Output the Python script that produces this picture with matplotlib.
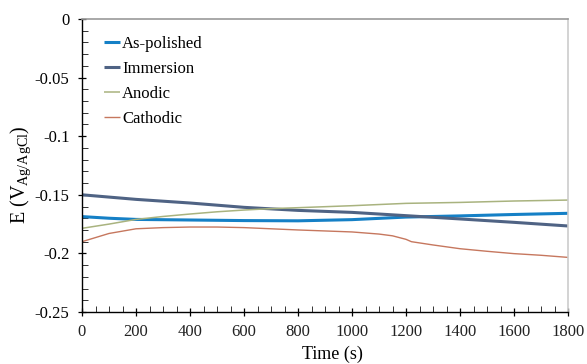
import matplotlib
matplotlib.use("Agg")
import matplotlib.pyplot as plt
from matplotlib.ticker import MultipleLocator, FixedLocator, FuncFormatter

plt.rcParams['font.family'] = ['Liberation Serif', 'DejaVu Serif']
plt.rcParams['mathtext.fontset'] = 'custom'
plt.rcParams['mathtext.rm'] = 'Liberation Serif'
plt.rcParams['mathtext.it'] = 'Liberation Serif:italic'

# Open-circuit potential vs time for the four surface conditions
t_polished = [0, 100, 200, 400, 600, 800, 1000, 1200, 1400, 1600, 1800]
e_polished = [-0.1686, -0.1700, -0.1710, -0.1715, -0.1720, -0.1722, -0.1712, -0.1690, -0.1680, -0.1668, -0.1658]

t_immersion = [0, 200, 400, 600, 800, 1000, 1200, 1400, 1600, 1800]
e_immersion = [-0.1500, -0.1539, -0.1570, -0.1607, -0.1633, -0.1650, -0.1678, -0.1706, -0.1735, -0.1766]

t_anodic = [0, 100, 200, 300, 400, 500, 600, 700, 800, 1000, 1200, 1400, 1600, 1800]
e_anodic = [-0.1786, -0.1750, -0.1710, -0.1685, -0.1664, -0.1645, -0.1630, -0.1618, -0.1610, -0.1593, -0.1573, -0.1565, -0.1553, -0.1545]

t_cathodic = [0, 100, 200, 300, 400, 500, 600, 700, 800, 1000, 1100, 1150, 1200, 1220, 1300, 1400, 1500, 1600, 1700, 1800]
e_cathodic = [-0.1900, -0.1830, -0.1790, -0.1780, -0.1775, -0.1775, -0.1780, -0.1790, -0.1800, -0.1817, -0.1835, -0.1850,
              -0.1880, -0.1900, -0.1928, -0.1960, -0.1982, -0.2002, -0.2016, -0.2034]

series = [
    ("As-polished", t_polished, e_polished, "#1580C6", 2.2),
    ("Immersion", t_immersion, e_immersion, "#4F6384", 2.2),
    ("Anodic", t_anodic, e_anodic, "#A9B37F", 1.1),
    ("Cathodic", t_cathodic, e_cathodic, "#C6775E", 1.0),
]

y_ticks = [0, -0.05, -0.1, -0.15, -0.2, -0.25]
y_tick_labels = ["0", "-0.05", "-0.1", "-0.15", "-0.2", "-0.25"]
x_ticks = [0, 200, 400, 600, 800, 1000, 1200, 1400, 1600, 1800]

fig = plt.figure(figsize=(5.87, 3.64), dpi=100)
ax = fig.add_axes([82 / 587, 1 - 312 / 364, 486 / 587, 293 / 364])

for label, t, e, color, lw in series:
    ax.plot(t, e, color=color, lw=lw, label=label, solid_capstyle='butt')

ax.set_xlim(0, 1800)
ax.set_ylim(-0.25, 0)

ax.xaxis.set_major_locator(FixedLocator(x_ticks))
ax.xaxis.set_minor_locator(MultipleLocator(50))
ax.yaxis.set_major_locator(FixedLocator(y_ticks))
ax.yaxis.set_major_formatter(FuncFormatter(
    lambda v, p: y_tick_labels[y_ticks.index(round(v, 2))] if round(v, 2) in y_ticks else ""))
ax.yaxis.set_minor_locator(MultipleLocator(0.01))

ax.tick_params(which='major', direction='inout', length=6, width=0.9, colors='black',
               labelsize=12, pad=5)
ax.tick_params(axis='y', which='major', pad=6)
ax.tick_params(which='minor', direction='in', length=4, width=0.7, colors='#333333')
ax.tick_params(axis='x', which='major', labelcolor='#222222', pad=6)

for side in ('left', 'bottom'):
    ax.spines[side].set_color('black')
    ax.spines[side].set_linewidth(1.0)
ax.spines['top'].set_color('#999999')
ax.spines['top'].set_linewidth(1.2)
ax.spines['right'].set_color('#CCCCCC')
ax.spines['right'].set_linewidth(1.2)

ax.set_xlabel("Time (s)", fontsize=13)
ax.xaxis.set_label_coords(0.516, -0.116)
ax.set_ylabel(r"E (V$_{\mathrm{Ag/AgCl}}$)", fontsize=14.5)
ax.yaxis.set_label_coords(-0.10, 0.468)

ax.legend(loc='upper left', bbox_to_anchor=(0.031, 0.966), frameon=False, fontsize=12,
          handlelength=1.0, handletextpad=0.1, labelspacing=0.55, borderaxespad=0)

fig.savefig("out.png", dpi=100)
